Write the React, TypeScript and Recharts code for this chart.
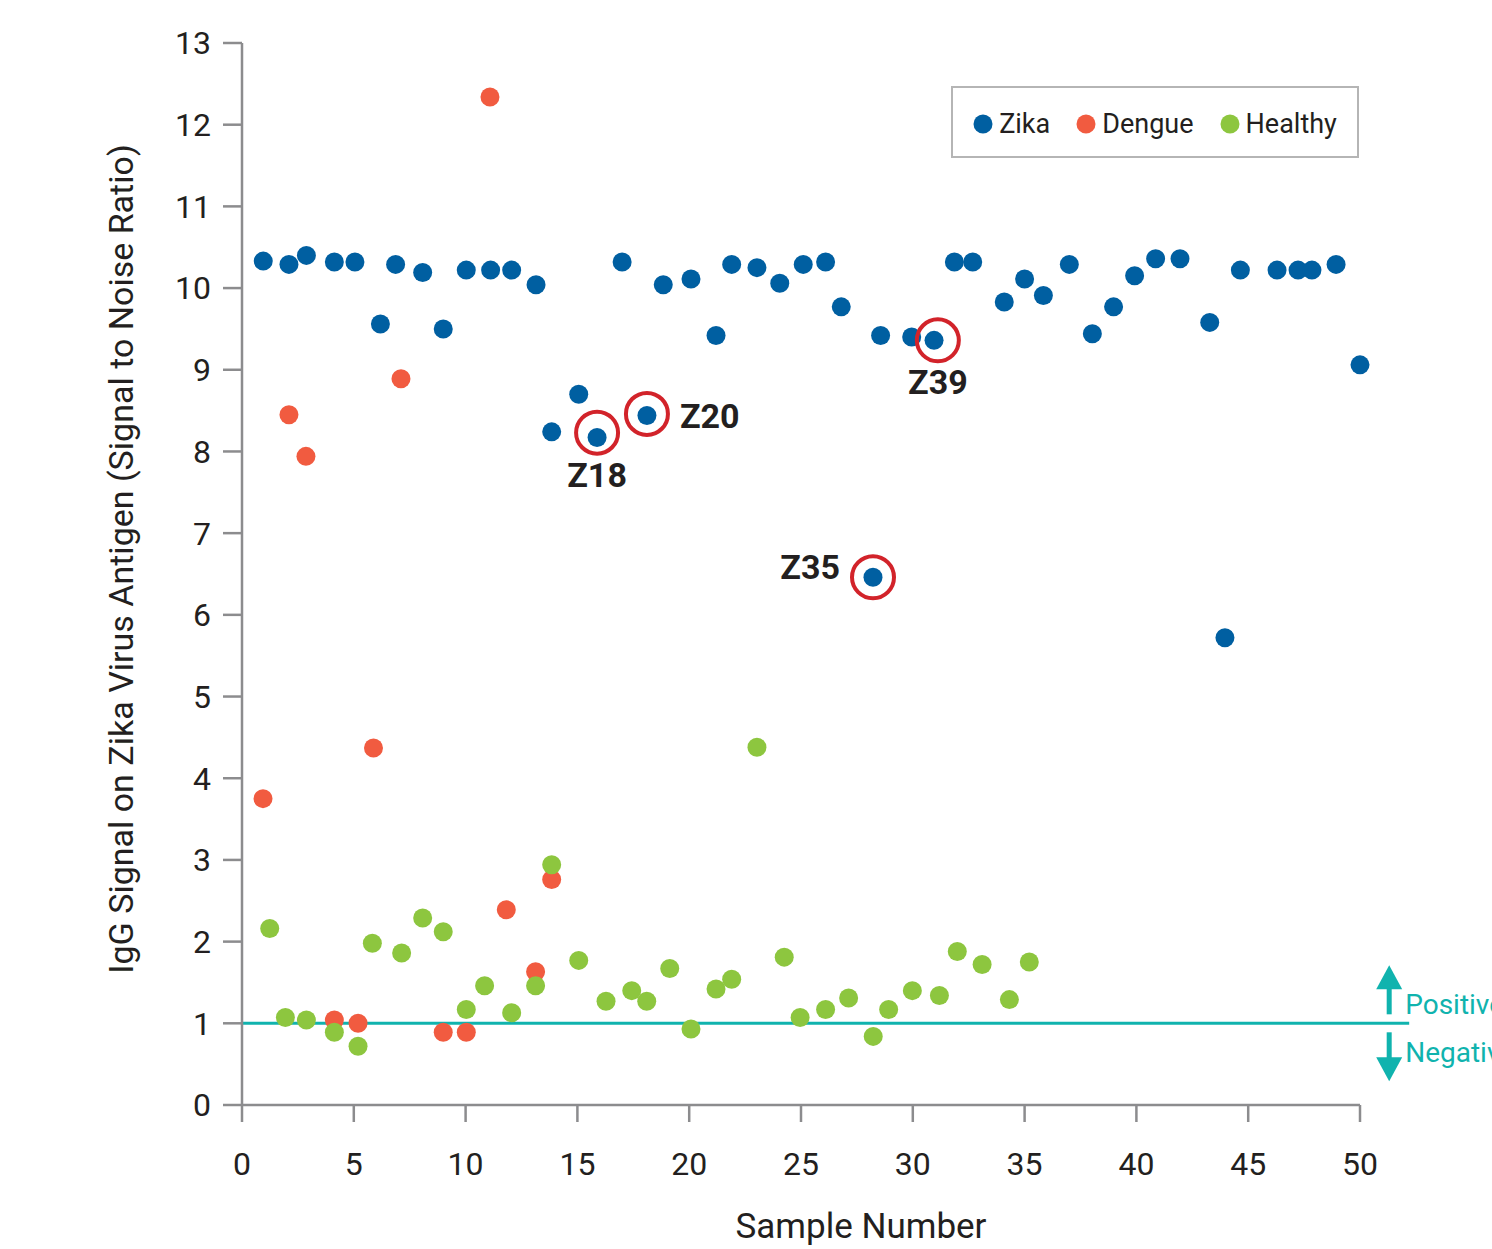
import { ScatterChart, Scatter, XAxis, YAxis, ReferenceLine, ReferenceDot, Legend } from 'recharts';

const FONT = 'Roboto, "Liberation Sans", Arial, sans-serif';
const INK = '#231F20';
const AXIS = '#8C8C8E';
const TEAL = '#10B3AE';
const RING = '#D2232A';

const COLORS = { Zika: '#005FA1', Dengue: '#F15B40', Healthy: '#8DC63F' };

// sample number / IgG signal
const zikaSample = [0.95, 2.1, 2.88, 4.13, 5.05, 6.19, 6.87, 8.08, 9.0, 10.03, 11.12, 12.06, 13.15, 13.85, 15.06, 15.88, 17.0, 18.11, 18.84, 20.08, 21.2, 21.9, 23.03, 24.05, 25.1, 26.1, 26.8, 28.22, 28.56, 29.95, 30.95, 31.86, 32.68, 34.09, 35.0, 35.84, 37.0, 38.03, 38.98, 39.92, 40.86, 41.95, 43.28, 43.96, 44.65, 46.29, 47.23, 47.85, 48.93, 50.0];
const zikaSignal = [10.33, 10.29, 10.4, 10.32, 10.32, 9.56, 10.29, 10.19, 9.5, 10.22, 10.22, 10.22, 10.04, 8.24, 8.7, 8.17, 10.32, 8.44, 10.04, 10.11, 9.42, 10.29, 10.25, 10.06, 10.29, 10.32, 9.77, 6.46, 9.42, 9.4, 9.36, 10.32, 10.32, 9.83, 10.11, 9.91, 10.29, 9.44, 9.77, 10.15, 10.36, 10.36, 9.58, 5.72, 10.22, 10.22, 10.22, 10.22, 10.29, 9.06];

const dengueSample = [0.94, 2.1, 2.86, 4.13, 5.19, 5.88, 7.11, 9.0, 10.03, 11.09, 11.82, 13.13, 13.85];
const dengueSignal = [3.75, 8.45, 7.94, 1.04, 1.0, 4.37, 8.89, 0.89, 0.89, 12.34, 2.39, 1.63, 2.76];

const healthySample = [1.24, 1.94, 2.88, 4.13, 5.19, 5.83, 7.14, 8.08, 9.0, 10.03, 10.85, 12.06, 13.13, 13.85, 15.06, 16.28, 17.43, 18.1, 19.13, 20.08, 21.2, 21.9, 23.03, 24.25, 24.96, 26.1, 27.13, 28.23, 28.92, 29.98, 31.19, 31.99, 33.1, 34.32, 35.21];
const healthySignal = [2.16, 1.07, 1.04, 0.89, 0.72, 1.98, 1.86, 2.29, 2.12, 1.17, 1.46, 1.13, 1.46, 2.94, 1.77, 1.27, 1.4, 1.27, 1.67, 0.93, 1.42, 1.54, 4.38, 1.81, 1.07, 1.17, 1.31, 0.84, 1.17, 1.4, 1.34, 1.88, 1.72, 1.29, 1.75];

const xTicks = [0, 5, 10, 15, 20, 25, 30, 35, 40, 45, 50];
const yTicks = [0, 1, 2, 3, 4, 5, 6, 7, 8, 9, 10, 11, 12, 13];

const cutoff = 1;
const cutoffEnd = 52.2;

const callouts = [
  { id: 'Z18', x: 15.88, y: 8.23, position: 'bottom', offset: 9, dy: 0 },
  { id: 'Z20', x: 18.11, y: 8.46, position: 'right', offset: 12, dy: 2 },
  { id: 'Z35', x: 28.22, y: 6.46, position: 'left', offset: 12, dy: -10 },
  { id: 'Z39', x: 31.12, y: 9.36, position: 'bottom', offset: 8, dy: 0 },
];

const toPoints = (xs: number[], ys: number[]) => xs.map((x, i) => ({ x, y: ys[i] }));

const series = [
  { name: 'Zika', data: toPoints(zikaSample, zikaSignal) },
  { name: 'Dengue', data: toPoints(dengueSample, dengueSignal) },
  { name: 'Healthy', data: toPoints(healthySample, healthySignal) },
];

const dot = (color: string) => (props: any) => <circle cx={props.cx} cy={props.cy} r={9.5} fill={color} />;

const renderLegend = () => (
  <div
    style={{
      boxSizing: 'border-box',
      width: 408,
      height: 72,
      paddingTop: 3,
      border: '2px solid #B5B5B5',
      background: '#fff',
      display: 'flex',
      alignItems: 'center',
      justifyContent: 'center',
      gap: 26,
      fontFamily: FONT,
      fontSize: 27,
      color: INK,
    }}
  >
    {series.map(s => (
      <span key={s.name} style={{ display: 'flex', alignItems: 'center', gap: 6 }}>
        <svg width={20} height={20}>
          <circle cx={10} cy={10} r={9.5} fill={COLORS[s.name as keyof typeof COLORS]} />
        </svg>
        {s.name}
      </span>
    ))}
  </div>
);

const CutoffLabel = (props: any) => {
  const vb = props.viewBox || {};
  const endX = (vb.x ?? 0) + (vb.width ?? 0);
  const y = vb.y ?? 0;
  const ax = endX - 20;
  return (
    <g fill={TEAL}>
      <polygon points={`${ax},${y - 58} ${ax - 13},${y - 34} ${ax + 13},${y - 34}`} />
      <rect x={ax - 2.5} y={y - 35} width={5} height={26} />
      <rect x={ax - 2.5} y={y + 9} width={5} height={26} />
      <polygon points={`${ax},${y + 58} ${ax - 13},${y + 34} ${ax + 13},${y + 34}`} />
      <text x={endX - 4} y={y - 9} fontSize={28} fontFamily={FONT}>Positive</text>
      <text x={endX - 4} y={y + 39} fontSize={28} fontFamily={FONT}>Negative</text>
    </g>
  );
};

const YTitle = (props: any) => {
  const vb = props.viewBox;
  const cx = vb.x + 121;
  const cy = vb.y + vb.height / 2 - 15;
  return (
    <text x={cx} y={cy} transform={`rotate(-90 ${cx} ${cy})`} textAnchor="middle" dominantBaseline="central" fontSize={34} fontFamily={FONT} fill={INK}>
      IgG Signal on Zika Virus Antigen (Signal to Noise Ratio)
    </text>
  );
};

const XTitle = (props: any) => {
  const vb = props.viewBox;
  return (
    <text x={vb.x + vb.width / 2 + 60} y={vb.y + 133} textAnchor="middle" fontSize={35} fontFamily={FONT} fill={INK}>
      Sample Number
    </text>
  );
};

export default function App() {
  return (
    <div style={{ position: 'absolute', left: 0, top: 0, background: '#fff' }}>
      <ScatterChart width={1492} height={1249} margin={{ top: 43, right: 132, bottom: 0, left: 0 }}>
        <XAxis
          type="number"
          dataKey="x"
          domain={[0, 50]}
          ticks={xTicks}
          height={144}
          stroke={AXIS}
          strokeWidth={2.5}
          tickSize={17}
          tickMargin={30}
          tick={{ fill: INK, fontSize: 32, fontFamily: FONT }}
          label={<XTitle />}
        />
        <YAxis
          type="number"
          dataKey="y"
          domain={[0, 13]}
          ticks={yTicks}
          width={242}
          stroke={AXIS}
          strokeWidth={2.5}
          tickSize={19}
          tickMargin={12}
          tick={{ fill: INK, fontSize: 32, fontFamily: FONT }}
          label={<YTitle />}
        />
        <ReferenceLine
          segment={[{ x: 0, y: cutoff }, { x: cutoffEnd, y: cutoff }]}
          stroke={TEAL}
          strokeWidth={3}
          ifOverflow="visible"
          label={<CutoffLabel />}
        />
        {series.map(s => (
          <Scatter
            key={s.name}
            name={s.name}
            data={s.data}
            fill={COLORS[s.name as keyof typeof COLORS]}
            shape={dot(COLORS[s.name as keyof typeof COLORS])}
            isAnimationActive={false}
          />
        ))}
        {callouts.map(c => (
          <ReferenceDot
            key={c.id}
            x={c.x}
            y={c.y}
            r={21}
            fill="none"
            stroke={RING}
            strokeWidth={4}
            ifOverflow="visible"
            label={{
              value: c.id,
              position: c.position as any,
              offset: c.offset,
              dy: c.dy,
              fill: INK,
              fontSize: 34,
              fontWeight: 700,
              fontFamily: FONT,
            }}
          />
        ))}
        <Legend
          layout="vertical"
          align="center"
          verticalAlign="middle"
          content={renderLegend}
          wrapperStyle={{ left: 951, top: 86, width: 408 }}
        />
      </ScatterChart>
    </div>
  );
}
